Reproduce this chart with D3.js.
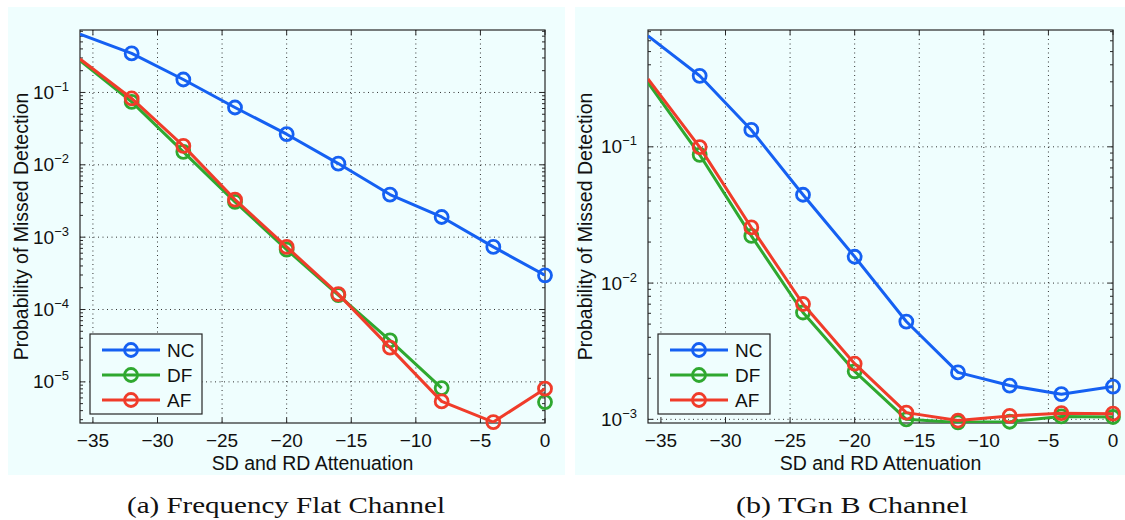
<!DOCTYPE html>
<html>
<head>
<meta charset="utf-8">
<script src="https://cdn.jsdelivr.net/npm/d3@7"></script>
<style>
  html, body { margin: 0; padding: 0; background: #ffffff; }
  svg { display: block; }
  .sans { font-family: "Liberation Sans", Arial, Helvetica, sans-serif; fill: #111; }
  .serif { font-family: "Liberation Serif", "Times New Roman", serif; fill: #111; }
</style>
</head>
<body>
<svg id="chart" width="1125" height="520"></svg>
<script>
// Attenuation steps (dB) shared by both panels
const attenuation = [-36, -32, -28, -24, -20, -16, -12, -8, -4, 0];

// (a) Frequency flat channel: probability of missed detection
const flatNC = [0.64, 0.346, 0.151, 0.062, 0.0265, 0.0104, 0.00388, 0.0019, 0.000733, 0.000297];
const flatDF = [0.275, 0.074, 0.0151, 0.00307, 0.000673, 0.000158, 3.75e-5, 8.2e-6, null, 5.26e-6];
const flatAF = [0.29, 0.0826, 0.01825, 0.00331, 0.000733, 0.000163, 2.97e-5, 5.37e-6, 2.78e-6, 8.05e-6];

// (b) TGn B channel: probability of missed detection
const tgnNC = [0.652, 0.332, 0.133, 0.0445, 0.0156, 0.00522, 0.00221, 0.00177, 0.00153, 0.00174];
const tgnDF = [0.296, 0.0874, 0.0222, 0.00608, 0.00225, 0.00100, 0.00095, 0.00096, 0.00105, 0.00104];
const tgnAF = [0.315, 0.0995, 0.0256, 0.00702, 0.00256, 0.00112, 0.00098, 0.00106, 0.00111, 0.00110];

const seriesNames = ["NC", "DF", "AF"];
const seriesColors = ["#1560f2", "#2fa82f", "#f03c2a"];

const xTickValues = [-35, -30, -25, -20, -15, -10, -5, 0];
const flatYTicks = [1e-1, 1e-2, 1e-3, 1e-4, 1e-5];
const tgnYTicks = [1e-1, 1e-2, 1e-3];

const xLabel = "SD and RD Attenuation";
const yLabel = "Probability of Missed Detection";
const captions = ["(a) Frequency Flat Channel", "(b) TGn B Channel"];

const svg = d3.select("#chart");
const axisColor = "#262626";

function drawPanel(opt) {
  const g = svg.append("g");

  // light cyan figure background
  g.append("rect")
    .attr("x", opt.bg[0]).attr("y", 7)
    .attr("width", opt.bg[1] - opt.bg[0]).attr("height", 468)
    .attr("fill", "#effefe");

  const x = d3.scaleLinear().domain([-36, 0]).range([opt.left, opt.right]);
  const y = d3.scaleLog().domain(opt.yDomain).range([opt.bottom, opt.top]);

  const clipId = "clip-" + opt.id;
  g.append("clipPath").attr("id", clipId)
    .append("rect")
    .attr("x", opt.left).attr("y", opt.top)
    .attr("width", opt.right - opt.left).attr("height", opt.bottom - opt.top);

  // dotted grid
  const grid = g.append("g").attr("stroke", "#333").attr("stroke-width", 1)
    .attr("stroke-dasharray", "1,3.5");
  xTickValues.filter(v => x(v) < opt.right - 1).forEach(v => {
    grid.append("line")
      .attr("x1", x(v)).attr("x2", x(v))
      .attr("y1", opt.top).attr("y2", opt.bottom);
  });
  opt.yTicks.forEach(v => {
    grid.append("line")
      .attr("x1", opt.left).attr("x2", opt.right)
      .attr("y1", y(v)).attr("y2", y(v));
  });

  // tick marks (inside), major and minor on the log axis
  const ticks = g.append("g").attr("stroke", axisColor).attr("stroke-width", 1);
  xTickValues.forEach(v => {
    ticks.append("line").attr("x1", x(v)).attr("x2", x(v))
      .attr("y1", opt.bottom).attr("y2", opt.bottom - 5);
    ticks.append("line").attr("x1", x(v)).attr("x2", x(v))
      .attr("y1", opt.top).attr("y2", opt.top + 5);
  });
  const [lo, hi] = opt.yDomain;
  for (let k = Math.floor(Math.log10(lo)); k <= Math.ceil(Math.log10(hi)); k++) {
    for (let m = 1; m <= 9; m++) {
      const v = m * Math.pow(10, k);
      if (v < lo || v > hi) continue;
      const len = m === 1 ? 5 : 3;
      ticks.append("line").attr("x1", opt.left).attr("x2", opt.left + len)
        .attr("y1", y(v)).attr("y2", y(v));
      ticks.append("line").attr("x1", opt.right).attr("x2", opt.right - len)
        .attr("y1", y(v)).attr("y2", y(v));
    }
  }

  // axes box
  g.append("rect")
    .attr("x", opt.left).attr("y", opt.top)
    .attr("width", opt.right - opt.left).attr("height", opt.bottom - opt.top)
    .attr("fill", "none").attr("stroke", axisColor).attr("stroke-width", 1.2);

  // x tick labels
  xTickValues.forEach(v => {
    g.append("text").attr("class", "sans")
      .attr("x", x(v)).attr("y", 447)
      .attr("text-anchor", "middle").attr("font-size", 19)
      .text(v < 0 ? "\u2212" + Math.abs(v) : String(v));
  });

  // y tick labels as powers of ten
  opt.yTicks.forEach(v => {
    const t = g.append("text").attr("class", "sans")
      .attr("x", opt.left - 11).attr("y", y(v) + 6.5)
      .attr("text-anchor", "end").attr("font-size", 19);
    t.append("tspan").text("10");
    t.append("tspan").attr("font-size", 13).attr("dy", -8)
      .text("\u2212" + Math.round(-Math.log10(v)));
  });

  // axis titles
  g.append("text").attr("class", "sans")
    .attr("x", (opt.left + opt.right) / 2).attr("y", 470)
    .attr("text-anchor", "middle").attr("font-size", 19.5)
    .text(xLabel);
  g.append("text").attr("class", "sans")
    .attr("transform", `translate(${opt.yLabelX},${(opt.top + opt.bottom) / 2}) rotate(-90)`)
    .attr("text-anchor", "middle").attr("font-size", 19.5)
    .text(yLabel);

  // series lines and circle markers
  const line = d3.line()
    .defined(d => d[1] != null)
    .x(d => x(d[0])).y(d => y(d[1]));
  opt.series.forEach((vals, i) => {
    const pts = attenuation.map((a, j) => [a, vals[j]]);
    g.append("path").datum(pts)
      .attr("clip-path", `url(#${clipId})`)
      .attr("d", line)
      .attr("fill", "none").attr("stroke", seriesColors[i])
      .attr("stroke-width", 3).attr("stroke-linejoin", "round");
    g.append("g").selectAll("circle")
      .data(pts.filter(d => d[1] != null && d[0] > -36))
      .join("circle")
      .attr("cx", d => x(d[0])).attr("cy", d => y(d[1])).attr("r", 6.5)
      .attr("fill", "none").attr("stroke", seriesColors[i]).attr("stroke-width", 2.8);
  });

  // legend
  const lx = opt.left + 10, ly = 334;
  const lg = g.append("g");
  lg.append("rect").attr("x", lx).attr("y", ly).attr("width", 112).attr("height", 80)
    .attr("fill", "#effefe").attr("stroke", axisColor).attr("stroke-width", 1.2);
  seriesNames.forEach((name, i) => {
    const ry = ly + 16 + i * 25;
    lg.append("line").attr("x1", lx + 12).attr("x2", lx + 70)
      .attr("y1", ry).attr("y2", ry)
      .attr("stroke", seriesColors[i]).attr("stroke-width", 3);
    lg.append("circle").attr("cx", lx + 41).attr("cy", ry).attr("r", 6.5)
      .attr("fill", "none").attr("stroke", seriesColors[i]).attr("stroke-width", 2.8);
    lg.append("text").attr("class", "sans")
      .attr("x", lx + 77).attr("y", ry + 7)
      .attr("font-size", 19).text(name);
  });

  // caption
  g.append("text").attr("class", "serif")
    .attr("x", opt.captionX).attr("y", 513)
    .attr("text-anchor", "middle").attr("font-size", 24)
    .attr("textLength", opt.captionLen).attr("lengthAdjust", "spacingAndGlyphs")
    .text(opt.caption);
}

drawPanel({
  id: "flat", bg: [8, 565], left: 80, right: 545, top: 30, bottom: 423,
  yDomain: [2.7e-6, 0.73], yTicks: flatYTicks, yLabelX: 28,
  series: [flatNC, flatDF, flatAF],
  caption: captions[0], captionX: 286, captionLen: 318
});

drawPanel({
  id: "tgn", bg: [575, 1125], left: 648, right: 1113, top: 30, bottom: 423,
  yDomain: [0.00094, 0.72], yTicks: tgnYTicks, yLabelX: 592,
  series: [tgnNC, tgnDF, tgnAF],
  caption: captions[1], captionX: 852, captionLen: 232
});
</script>
</body>
</html>
